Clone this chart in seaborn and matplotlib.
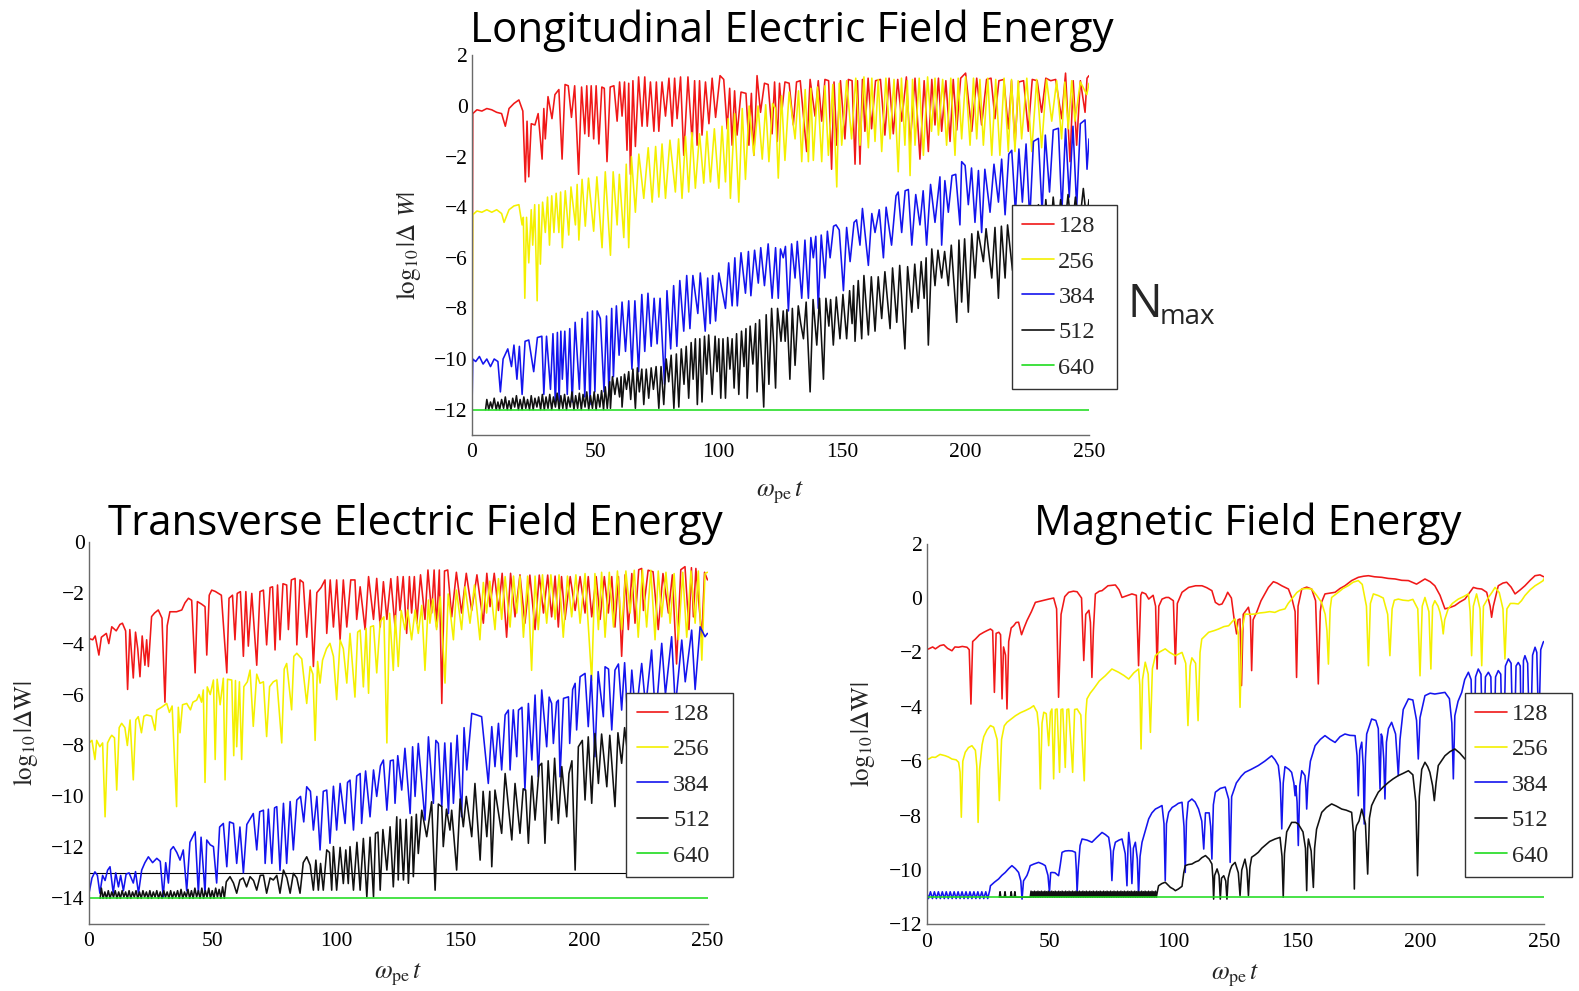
import matplotlib
matplotlib.use("Agg")
import matplotlib.pyplot as plt
from matplotlib.ticker import MultipleLocator
import pandas as pd
import seaborn as sns

# ---------------------------------------------------------------- data
# (t, log10|dW|) vertices for each N_max, one panel at a time
LONG_128 = [
    (0, -12.0), (0.3, -0.3), (2, -0.15), (4, -0.2), (6, -0.1), (8, -0.15), (10, -0.25), (12, -0.3),
    (13.5, -0.8), (15, -0.1), (17, 0.1), (19, 0.24), (20.6, -0.2), (21.6, -3.0), (22.3, -0.6), (23, -2.8),
    (24, -0.7), (25.5, -0.75), (26.8, -0.3), (28.4, -2.1), (29.1, -0.1), (29.7, -1.3), (30.8, 0.37),
    (32.4, -0.5), (33.6, 0.45), (35.2, 0.65), (36.5, -2.1), (37.7, 0.85), (39, 0.8), (40.3, -0.45),
    (41.6, 0.8), (43.2, -2.7), (44.4, 0.75), (45.7, -1.1), (46.5, 0.8), (47.3, -1.2), (48.3, 0.8),
    (49.3, -1.3), (50.3, 0.8), (51.4, -1.5), (52.6, 0.75), (53.6, 0.7), (54.7, -2.2), (56, 0.75),
    (57.5, 0.8), (58.8, -0.6), (59.8, 0.95), (60.8, -0.4), (61.8, 0.95), (62.8, -1.75), (63.5, 0.9),
    (64.2, -2.7), (65.2, 1.0), (66.2, -1.6), (67.5, 1.15), (68.9, -0.8), (70, 1.15), (71, -0.8),
    (72.3, 0.95), (73.7, -1.0), (74.7, 0.95), (75.7, -1.0), (77, 0.95), (78.4, -0.4), (79.8, 1.1),
    (81.1, -0.8), (82.1, 1.1), (83.1, -0.5), (84.5, 1.15), (85.8, -1.95), (87.5, 1.15), (89.2, -1.4),
    (90.2, 1.0), (91.2, -1.55), (92.2, 1.0), (93.2, -1.15), (94.6, 0.95), (96, -0.7), (97.3, 1.1),
    (98.7, -0.45), (100.5, 1.2), (102, 1.05), (103.4, -0.9), (104.4, 0.7), (105.4, -1.55), (106.4, 0.6),
    (107.4, -1.15), (109, 0.55), (111, 0.5), (112.2, -1.55), (113.2, 0.5), (114.2, -1.95), (115.5, 1.2),
    (116.9, -0.25), (118.5, 0.9), (120, 0.85), (121.6, -1.1), (122.6, 0.95), (123.7, -1.4), (124.6, 0.9),
    (125.5, -0.25), (126.8, 0.95), (128.5, 0.9), (130.2, -0.75), (131.5, 0.95), (133, 1.0), (135.6, -1.8),
    (137, 1.05), (139, -0.4), (140.3, 1.0), (141.7, -0.6), (143, 1.05), (144.5, 1.0), (145.7, -2.5),
    (146.7, 0.95), (147.8, -1.55), (149.3, 1.0), (151.1, -1.3), (152.5, 1.05), (154, 1.0), (155.2, -2.3),
    (156.2, 1.0), (157.2, -2.3), (158.2, 1.05), (159.2, -1.0), (160.5, 1.1), (161.9, -0.9), (163.5, 1.0),
    (165.5, 1.05), (167.3, -1.15), (169, 1.1), (170.7, -1.1), (172.5, 1.05), (174.1, -0.6), (176, 1.15),
    (177.5, -1.55), (179.5, 1.1), (181.5, -2.1), (183.2, 1.0), (184.9, -1.8), (186.3, 1.05), (187.6, -0.75),
    (189, 1.1), (190.3, -1.0), (192, 1.0), (193.7, -1.4), (195, 1.05), (196.4, -0.95), (198, 1.1),
    (200, 1.3), (202.5, -1.0), (204.5, 1.1), (206.5, -0.75), (208.5, 1.05), (210.3, 1.1), (211.9, -0.5),
    (213.5, 1.0), (215.5, 1.05), (217.3, -0.9), (218.6, 1.0), (220, -1.55), (221.5, 0.95), (223.5, 1.0),
    (225.4, -1.0), (227, 1.05), (229, 1.0), (230.8, -0.25), (232.5, 1.1), (234.5, 1.0), (236.5, 1.05),
    (238.9, -0.5), (240.5, 1.3), (242.3, -2.2), (243.6, 1.0), (245, -1.55), (246.5, 1.0), (248.4, -0.25),
    (249.2, 1.1), (250, 1.2),
]
LONG_256 = [
    (0, -12.0), (0.3, -4.3), (2, -4.15), (4, -4.2), (6, -4.1), (8, -4.2), (10, -4.1), (12, -4.25), (13, -4.6),
    (15, -4.1), (17, -3.95), (19, -3.9), (20.3, -4.7), (20.8, -4.4), (21.4, -7.6), (22.1, -4.4), (23, -6.2),
    (24, -4.1), (24.6, -5.5), (25.4, -3.9), (26.4, -7.7), (27.1, -3.9), (27.7, -6.25), (28.6, -3.8),
    (29.7, -5.0), (30.6, -3.6), (31.4, -5.5), (32.3, -3.55), (33.2, -5.0), (34.1, -3.45), (35.2, -5.0),
    (35.9, -3.4), (36.6, -5.6), (37.8, -3.35), (39.2, -5.1), (40.1, -3.2), (41.9, -4.7), (42.6, -3.1),
    (43.3, -5.3), (44.6, -2.9), (45.9, -4.75), (47.2, -2.85), (49.3, -4.95), (50.6, -2.8), (52.7, -5.6),
    (54, -2.6), (56.1, -5.9), (57.2, -2.6), (58.8, -4.7), (59.7, -2.7), (61.5, -5.2), (62.5, -2.3),
    (63.5, -5.6), (64.6, -2.0), (66.2, -4.2), (67.6, -1.9), (69.6, -3.65), (71.4, -1.65), (73, -3.8),
    (74.4, -1.6), (75.7, -3.6), (77, -1.5), (78.4, -3.65), (80.2, -1.35), (82.4, -3.4), (83.7, -1.3),
    (85.1, -3.65), (86.5, -1.2), (87.8, -3.4), (89.1, -1.05), (90.5, -3.25), (92.2, -1.1), (93.9, -3.05),
    (95.2, -1.0), (96.6, -3.0), (98.2, -0.9), (100, -3.25), (101.3, -0.8), (102.7, -3.0), (103.8, -0.5),
    (104.7, -3.65), (106.4, -0.3), (108.1, -3.8), (109.5, -0.1), (110.8, -2.9), (112.3, 0.0), (114.2, -1.95),
    (115.9, 0.0), (117.6, -2.1), (119, 0.05), (120.3, -2.2), (121.8, 0.1), (123, -0.1), (124.1, -2.85),
    (125.4, 0.4), (126.8, -2.15), (128.5, 0.55), (130.9, -1.3), (132.3, 0.6), (133.6, -2.2), (135, 0.65),
    (136.3, -2.2), (137.3, 0.7), (138.3, -2.15), (140, 0.75), (141.7, -2.2), (143, 0.8), (144.4, -1.95),
    (146.2, 0.85), (147.8, -3.2), (148.8, 0.9), (149.8, -1.55), (151.8, 1.0), (153.8, -1.3), (155.5, 1.1),
    (157.2, -1.55), (158.8, 1.15), (160.6, -1.65), (162, 1.1), (163.3, -1.4), (164.6, 1.05), (166, -1.8),
    (167.7, 1.1), (169.4, -1.3), (171, 1.05), (172.7, -2.6), (174, 1.1), (175.4, -1.55), (176.4, 1.0),
    (177.5, -2.75), (178.5, 1.05), (179.5, -1.55), (181.2, 1.1), (182.9, -1.95), (184.6, 1.15), (186.2, -1.0),
    (187.6, 1.1), (189, -1.15), (190.7, 1.05), (192.3, -1.55), (194, 1.1), (195.7, -1.95), (197, 1.1),
    (198.4, -1.3), (200, 1.15), (201.8, -1.55), (203.2, 1.1), (204.5, -1.3), (205.8, 1.05), (207.2, -1.55),
    (209, 1.1), (210.6, -1.95), (212.2, 1.05), (213.9, -1.95), (215.6, 1.1), (217.3, -1.8), (218.6, 1.05),
    (220, -1.8), (221.3, 1.0), (222.7, -1.3), (224.8, 1.1), (226.8, -1.8), (228.8, 1.05), (230.8, -1.65),
    (232.8, 1.05), (234.9, -0.6), (236.9, 1.0), (238.9, -1.3), (240.2, 0.95), (241.6, -0.9), (243, 1.0),
    (244.3, -0.6), (246.5, 0.95), (249.1, 0.45), (250, 0.9),
]
LONG_384 = [
    (0, -12.0), (0.3, -10.0), (1.5, -10.1), (3, -9.9), (4.5, -10.2), (6, -10.0), (7.5, -10.3), (9, -10.0),
    (10.5, -10.1), (11.5, -11.3), (12.6, -10.0), (14.5, -9.6), (16, -10.3), (17, -9.45), (18.2, -10.8),
    (19.2, -9.5), (20.3, -11.4), (21.5, -9.3), (23, -9.25), (25, -10.5), (26.5, -9.15), (28.3, -9.1),
    (29.1, -11.4), (30.2, -9.1), (31.8, -11.2), (32.8, -9.0), (33.8, -11.8), (34.6, -8.95), (35.3, -11.7),
    (36, -8.9), (36.6, -10.8), (37.6, -8.9), (38.6, -11.4), (39.6, -8.8), (40.6, -11.7), (41.8, -8.55),
    (43.5, -11.2), (44.6, -8.4), (45.7, -11.5), (46.8, -8.15), (47.8, -11.8), (48.8, -8.1), (49.8, -11.3),
    (50.7, -8.1), (52, -8.4), (53.5, -11.3), (54.5, -8.3), (55.5, -11.4), (56.6, -8.0), (57.3, -10.7),
    (58.5, -7.9), (59.6, -9.85), (60.8, -7.75), (62.2, -9.7), (63.5, -7.7), (64.8, -10.4), (66, -7.7),
    (67.5, -10.5), (68.8, -7.45), (70, -9.7), (71.3, -7.4), (72.6, -9.5), (73.8, -7.6), (75, -9.4),
    (76.2, -7.6), (78, -11.0), (79, -7.3), (80.5, -9.6), (81.7, -7.1), (83, -9.5), (84.2, -6.9), (85.8, -8.9),
    (87, -6.7), (88.3, -8.8), (89.5, -6.7), (91.5, -8.2), (92.5, -6.6), (94.5, -8.9), (95.5, -6.8),
    (96.5, -8.6), (97.5, -6.7), (98.7, -8.5), (100, -6.6), (102.7, -8.0), (104, -6.2), (105.4, -7.9),
    (106.5, -6.0), (107.5, -7.9), (109, -5.8), (110.8, -7.4), (112, -5.75), (113, -7.5), (114.5, -5.7),
    (116, -7.0), (117, -5.6), (118.5, -7.1), (120, -5.45), (121.6, -7.6), (123, -5.6), (124.1, -7.6),
    (125, -5.65), (126.1, -6.0), (127, -5.55), (128.2, -8.1), (129.5, -5.45), (130.9, -6.8), (131.8, -5.35),
    (133.6, -7.6), (134.9, -5.3), (136.3, -7.6), (137.3, -5.2), (138.3, -6.0), (139.3, -5.15), (140.3, -8.0),
    (141.5, -5.1), (143, -6.8), (144, -4.95), (145.1, -6.0), (146.5, -4.75), (147.5, -4.7), (148.8, -4.9),
    (150.5, -7.3), (151.8, -4.8), (153.2, -6.15), (154.8, -4.6), (155.8, -4.5), (157.2, -5.5), (158.2, -4.05),
    (160.6, -6.3), (162, -4.25), (163.3, -5.0), (165, -4.1), (166.7, -6.0), (167.8, -4.0), (170, -5.5),
    (171.8, -3.55), (172.7, -3.4), (174.1, -5.0), (175.5, -3.35), (176.8, -3.3), (178.2, -5.5), (179.8, -3.5),
    (181.5, -4.7), (182.8, -3.35), (184.2, -5.5), (185.8, -3.1), (187.6, -4.6), (189.6, -2.8), (190.3, -5.5),
    (191.6, -2.95), (193, -4.2), (194.5, -2.75), (196, -2.7), (197.7, -4.7), (198.4, -2.2), (199.8, -2.35),
    (201.1, -3.9), (202.4, -2.45), (203.8, -4.6), (205.2, -2.55), (206.5, -5.0), (207.8, -2.5), (209.9, -4.2),
    (211.5, -2.3), (213.3, -3.8), (214.6, -2.1), (216, -4.3), (217.5, -1.9), (218.7, -1.75), (220.2, -4.2),
    (221.6, -1.7), (223, -3.8), (224.5, -1.5), (226, -4.5), (227.5, -1.4), (229.5, -1.28), (231, -4.2),
    (232.3, -1.15), (234, -3.4), (235.5, -0.95), (237.6, -0.88), (239, -4.2), (240.5, -0.9), (242, -3.6),
    (243.5, -0.8), (245, -4.0), (246.5, -0.7), (248.4, -0.55), (249.2, -2.5), (250, -1.3),
]
LONG_512 = [
    (5.5, -12.0), (6, -11.6), (6.8, -12.0), (7.5, -11.7), (8.2, -11.95), (9, -11.55), (9.8, -12.0),
    (10.5, -11.7), (11.2, -12.0), (12, -11.6), (12.8, -11.95), (13.5, -11.5), (14.3, -12.0), (15, -11.65),
    (15.8, -12.0), (16.5, -11.55), (17.3, -11.9), (18, -11.45), (18.8, -12.0), (19.5, -11.6), (20.3, -12.0),
    (21, -11.5), (21.8, -11.95), (22.5, -11.6), (23.3, -12.0), (24, -11.45), (24.8, -12.0), (25.5, -11.55),
    (26.3, -11.9), (27, -11.5), (27.8, -12.0), (28.5, -11.4), (29.3, -12.0), (30, -11.5), (30.8, -11.95),
    (31.5, -11.4), (32.3, -12.0), (33, -11.5), (33.8, -11.9), (34.5, -11.35), (35.3, -12.0), (36, -11.45),
    (36.8, -11.95), (37.5, -11.4), (38.3, -12.0), (39, -11.5), (39.8, -11.9), (40.5, -11.3), (41.3, -12.0),
    (42, -11.45), (42.8, -11.95), (43.5, -11.35), (44.3, -12.0), (45, -11.4), (45.8, -11.9), (46.5, -11.3),
    (47.3, -12.0), (48, -11.45), (48.8, -11.95), (49.5, -11.3), (50.3, -12.0), (51, -11.4), (51.8, -11.9),
    (52.5, -11.25), (53.3, -12.0), (54, -11.1), (54.8, -11.95), (55.8, -10.9), (56.1, -11.95), (56.9, -10.7),
    (57.9, -11.4), (58.8, -10.75), (59.8, -11.5), (60.4, -10.7), (60.8, -11.9), (61.8, -10.6), (62.6, -11.2),
    (63.5, -10.5), (64.3, -11.6), (65.2, -10.4), (66.2, -11.95), (67, -10.35), (67.8, -11.3), (68.8, -10.4),
    (69.6, -11.8), (70.6, -10.4), (71.6, -11.55), (72.6, -10.35), (73.5, -11.2), (74.6, -10.3), (75.7, -11.95),
    (76.6, -10.3), (77.7, -11.8), (78.7, -10.0), (79.7, -10.9), (80.7, -9.85), (81.8, -11.95), (82.8, -9.8),
    (83.8, -11.9), (84.8, -9.6), (85.9, -11.0), (86.8, -9.5), (87.8, -11.55), (88.8, -9.35), (89.6, -10.8),
    (90.5, -9.2), (91.3, -11.8), (92.3, -9.2), (93.2, -11.7), (94.2, -9.1), (95.1, -10.6), (95.9, -9.05),
    (97.3, -11.4), (98.5, -9.1), (99.3, -10.5), (100, -9.2), (100.8, -11.55), (101.7, -9.2), (102.7, -11.55),
    (103.6, -9.15), (104.5, -10.4), (105.4, -9.2), (106.2, -11.15), (107.2, -9.0), (108.1, -11.4),
    (109.2, -8.9), (110.2, -10.3), (111, -8.8), (111.5, -11.55), (112.7, -8.7), (113.8, -10.2), (114.9, -8.6),
    (115.5, -11.3), (116.5, -8.45), (117.3, -10.0), (118.2, -11.9), (119.2, -8.25), (120.3, -11.0),
    (121.4, -8.0), (122.3, -9.5), (123, -11.15), (123.8, -8.0), (125.2, -9.3), (126.1, -8.1), (126.9, -9.3),
    (127.6, -8.05), (128.8, -10.8), (129.8, -8.0), (130.9, -10.25), (132.2, -7.9), (133.2, -8.6),
    (134.3, -9.2), (135.4, -7.75), (137, -11.3), (138.2, -7.65), (139.7, -9.45), (140.8, -7.6),
    (142.4, -10.8), (143.4, -7.6), (144.6, -8.7), (145.3, -7.65), (146.4, -9.45), (147.6, -7.55),
    (149.1, -9.2), (150.3, -7.45), (151.8, -9.2), (153, -7.3), (154, -8.6), (154.6, -7.1), (155.2, -9.3),
    (156.5, -6.9), (157.9, -9.2), (158.8, -6.7), (160.6, -9.05), (161.8, -6.75), (163.3, -8.9),
    (164.6, -6.75), (166, -8.4), (167.3, -6.55), (169.4, -8.8), (170.4, -6.4), (172.1, -8.55), (173.3, -6.3),
    (175.4, -9.6), (176.5, -6.35), (178.2, -8.15), (179.4, -6.25), (180.8, -8.0), (182, -6.15), (183.2, -7.6),
    (184, -6.0), (184.9, -9.45), (186.3, -5.65), (187.6, -7.1), (188.8, -5.7), (190.3, -6.8), (191.5, -5.75),
    (193, -7.1), (194.2, -5.5), (196.4, -8.55), (197.3, -5.3), (198.4, -7.75), (199.6, -5.25), (201.1, -8.15),
    (202.5, -5.05), (203.8, -6.8), (205, -4.95), (207.2, -6.15), (208.3, -4.85), (210.6, -6.8),
    (211.9, -4.8), (213.3, -7.6), (214.5, -4.75), (216, -6.8), (217, -4.7), (219, -6.5), (220.5, -4.5),
    (222, -6.2), (223.5, -4.3), (225, -6.0), (226.5, -4.1), (228, -5.8), (229.5, -3.9), (231, -5.9),
    (232.5, -3.7), (234, -5.5), (235.5, -3.6), (237, -5.2), (238.5, -3.7), (240, -5.0), (241.5, -3.5),
    (243, -5.0), (244.5, -3.6), (246, -4.8), (247.7, -3.26), (249, -4.5), (250, -3.7),
]
LONG_640 = [(0, -12.0), (250, -12.0)]

TRANS_128 = [
    (0, -3.8), (1.5, -3.85), (2.5, -3.7), (4, -4.45), (5, -3.75), (7, -3.6), (8, -4.0), (9.2, -3.34),
    (11, -3.5), (12.5, -3.25), (13.5, -3.2), (14.8, -3.5), (15.6, -5.8), (16.5, -3.45), (17.9, -5.35),
    (18.8, -3.55), (19.7, -4.2), (20.6, -5.3), (21.5, -3.7), (22.6, -4.85), (23.3, -3.85), (24, -4.9),
    (25.3, -2.94), (26.5, -2.8), (28, -2.68), (29.5, -3.0), (30.7, -6.3), (31.6, -3.3), (32.7, -2.75),
    (34, -2.75), (35.4, -2.75), (37.5, -2.68), (38.8, -2.4), (40.2, -2.22), (41.5, -2.3), (42.9, -5.15),
    (43.8, -2.35), (45.5, -2.45), (46.9, -2.55), (47.6, -4.45), (48.6, -2.1), (49.6, -1.9), (51, -1.95),
    (52.3, -2.03), (53.5, -2.1), (55.7, -5.15), (56.6, -2.22), (58, -2.1), (59, -3.85), (59.9, -2.03),
    (61.2, -1.96), (62.4, -4.5), (63.4, -1.96), (64.4, -4.1), (65.8, -2.03), (67.8, -4.85), (69.1, -1.96),
    (70.5, -1.9), (71.8, -4.05), (73.2, -1.8), (74.2, -1.77), (75.2, -4.25), (76.2, -1.7), (77.2, -3.85),
    (78.4, -1.65), (79.9, -1.7), (80.6, -3.45), (81.8, -1.5), (83.3, -1.44), (84, -4.05), (85.3, -1.5),
    (86.6, -1.6), (88, -3.75), (89.4, -1.9), (90.7, -4.9), (92.1, -2.0), (93.8, -1.8), (95.4, -1.5),
    (96.1, -3.6), (97.5, -1.5), (98.8, -3.35), (100.1, -1.5), (101.5, -3.85), (102.8, -1.5), (104.2, -3.35),
    (105.8, -1.5), (107.5, -1.5), (108.2, -3.05), (109.6, -1.77), (111.6, -3.45), (113, -1.37), (115, -3.05),
    (116.3, -1.44), (117.7, -3.35), (119, -1.57), (120.4, -3.05), (122, -1.45), (123.7, -3.35), (124.7, -1.37),
    (125.7, -2.7), (127, -1.37), (128.4, -3.6), (129.5, -1.37), (130.4, -2.8), (131.5, -1.37), (132.5, -3.2),
    (134, -1.3), (135.8, -3.05), (137, -1.11), (138.5, -2.8), (139.5, -1.11), (140.5, -3.35), (141.6, -1.11),
    (142.6, -6.35), (143.7, -1.15), (145, -1.11), (146.6, -2.95), (148.5, -1.2), (150.6, -2.8), (152.5, -1.24),
    (154.7, -2.7), (156.8, -1.3), (159.4, -3.2), (160.8, -1.24), (162.1, -2.55), (163.8, -1.24), (165.5, -2.7),
    (167, -1.24), (168.8, -3.75), (170.4, -1.24), (172.2, -2.95), (174.2, -1.3), (176.2, -3.2), (178.2, -1.31),
    (180.3, -3.45), (182, -1.31), (183.7, -2.8), (185.4, -1.31), (187, -2.95), (188.4, -1.35), (189.7, -3.35),
    (191, -1.37), (192.4, -3.05), (194.5, -1.37), (196.5, -2.7), (198.5, -1.37), (200.5, -2.8), (201.8, -1.37),
    (203.2, -2.95), (205, -1.37), (206.6, -3.05), (208.3, -1.37), (209.9, -2.8), (211.3, -1.37), (212.6, -3.35),
    (214, -1.37), (215.3, -4.5), (216.7, -1.3), (218, -3.45), (219.4, -1.25), (220.7, -3.2), (222.2, -1.1),
    (223.4, -1.05), (224.1, -2.7), (226, -1.12), (228, -1.18), (230.1, -3.45), (232, -1.25), (234.2, -2.8),
    (235.8, -1.3), (237.5, -4.8), (239.2, -1.1), (240.9, -0.98), (242.5, -3.45), (243.5, -1.02), (244.3, -2.95),
    (245.3, -1.05), (247.7, -3.75), (248.8, -1.2), (250, -1.5),
]
TRANS_256 = [
    (0, -7.9), (1.2, -7.8), (2.4, -8.55), (3.1, -7.8), (4.4, -8.05), (5.5, -7.9), (6.5, -10.8), (7.5, -7.9),
    (8.5, -7.7), (9.2, -7.6), (10.3, -7.7), (11.2, -9.75), (12.2, -7.3), (13.2, -7.13), (14.5, -7.3),
    (15.5, -8.0), (16.6, -7.0), (17.9, -9.35), (18.9, -7.0), (19.9, -6.87), (21.2, -7.5), (22.2, -6.85),
    (23.3, -6.8), (25.3, -6.85), (26.7, -7.4), (27.4, -6.61), (29.3, -6.5), (31.4, -6.35), (32.5, -6.7),
    (33.6, -6.45), (35.4, -10.4), (36.1, -6.5), (36.8, -7.5), (37.8, -6.4), (39.5, -6.35), (41, -6.6),
    (42, -6.3), (43.5, -6.22), (44.5, -6.0), (45.5, -6.3), (46.2, -5.82), (46.9, -9.45), (47.8, -5.7),
    (49, -6.0), (50.3, -5.43), (51, -8.55), (51.8, -5.4), (53, -6.4), (54.3, -5.36), (55, -9.35), (56, -5.4),
    (57.7, -5.43), (58.5, -8.4), (59.2, -5.45), (59.7, -8.05), (60.8, -5.5), (61.7, -8.55), (62.6, -5.69),
    (64, -5.5), (65.1, -5.04), (66.4, -7.25), (67.8, -5.2), (69.1, -5.56), (70.5, -5.5), (71.8, -7.65),
    (73, -5.69), (74.5, -5.5), (75.9, -5.43), (77.9, -7.9), (78.9, -5.0), (79.9, -4.78), (81.9, -6.6),
    (82.8, -4.5), (84, -4.38), (86, -4.6), (88, -6.35), (89.4, -4.9), (90.5, -5.2), (91.4, -7.8), (92.4, -4.7),
    (93.4, -5.55), (94.4, -4.65), (96, -4.2), (97.4, -3.99), (98.8, -4.5), (100.1, -6.2), (101.5, -3.86),
    (102.8, -4.2), (104.2, -5.55), (105.5, -3.6), (107.5, -6.1), (108.6, -3.55), (109.6, -3.47), (110.9, -5.7),
    (112, -3.4), (113, -5.95), (113.8, -3.34), (115, -3.3), (116.3, -5.15), (117.7, -3.14), (119.2, -2.95),
    (120.4, -7.9), (121.5, -2.81), (123, -5.05), (123.8, -2.9), (125, -4.9), (126.2, -2.7), (127.7, -3.45),
    (128.8, -2.68), (130.4, -3.85), (131.8, -2.68), (133.1, -3.6), (134.5, -2.5), (135.8, -5.05),
    (137.2, -2.29), (137.8, -3.2), (139, -2.25), (140.5, -3.45), (142, -2.16), (143.9, -5.55), (145.2, -2.05),
    (147.3, -3.85), (148.5, -1.9), (150.6, -3.45), (152, -1.77), (154, -3.2), (155.8, -1.7), (158, -3.85),
    (159.4, -1.6), (160.7, -2.8), (162, -1.55), (164.1, -3.45), (165.5, -1.45), (166.8, -3.05), (168.2, -1.37),
    (170.2, -3.35), (171.6, -1.35), (172.9, -2.8), (174.2, -1.35), (175.6, -3.75), (177.3, -1.35),
    (178.9, -5.05), (180.3, -1.35), (181.6, -3.45), (183.3, -1.3), (185, -3.2), (186.7, -1.3), (188.4, -3.05),
    (190, -1.3), (191.7, -3.75), (193.4, -1.35), (195.1, -2.95), (196.8, -1.3), (198.5, -3.2), (200.5, -1.25),
    (203.2, -5.45), (204.5, -1.25), (205.9, -3.45), (207.2, -1.2), (208.6, -3.75), (210.3, -1.2), (212, -3.35),
    (213.6, -1.15), (215.3, -3.45), (217, -1.15), (218.7, -2.8), (220.4, -1.12), (222, -3.75), (223.7, -1.1),
    (225.4, -3.35), (227.1, -1.12), (228.8, -3.85), (230.1, -1.15), (231.5, -2.95), (233.2, -1.2),
    (234.9, -3.2), (236.5, -1.25), (238.2, -3.85), (240, -1.2), (241.6, -3.75), (243.3, -1.15), (245, -3.2),
    (246.3, -1.15), (247.7, -4.65), (249, -1.25), (250, -1.2),
]
TRANS_384 = [
    (0, -13.8), (1.2, -13.2), (2.4, -12.96), (3.4, -13.1), (4.4, -13.8), (5.5, -13.1), (6.5, -13.3),
    (7.5, -12.9), (8.5, -12.76), (9.8, -13.8), (10.8, -13.0), (11.9, -13.55), (12.8, -13.1), (13.9, -13.7),
    (15, -13.05), (16.2, -13.0), (17.9, -13.4), (18.8, -12.95), (20, -13.8), (21.3, -12.89), (22.6, -12.6),
    (24, -12.37), (25.7, -12.6), (27.4, -12.43), (28.8, -12.55), (30, -13.95), (31, -12.6), (32.1, -13.4),
    (33, -12.1), (34.1, -11.97), (35.5, -12.2), (36.8, -12.5), (38.1, -12.1), (39.5, -13.7), (40.8, -11.8),
    (42.9, -11.39), (44.2, -13.8), (45.3, -11.6), (46.9, -13.8), (47.6, -11.71), (49, -11.9), (50.3, -11.97),
    (51.6, -13.4), (52.8, -11.2), (54.3, -11.06), (55.7, -12.76), (56.8, -11.0), (58.4, -11.06),
    (59.7, -12.63), (61, -11.2), (62.4, -13.0), (63.8, -11.1), (65, -10.9), (66.4, -10.67), (67.8, -12.1),
    (69, -10.6), (70.5, -10.54), (71.2, -12.63), (72.5, -10.5), (73.9, -12.63), (75, -10.45), (75.9, -10.4),
    (77.2, -12.9), (78.6, -10.27), (79.9, -12.63), (81.3, -10.2), (82.6, -12.1), (84, -10.14), (85.5, -10.0),
    (86.8, -11.0), (88, -9.62), (89.5, -9.8), (90.7, -11.32), (92.1, -10.0), (93.4, -12.1), (94.7, -9.8),
    (96.1, -9.75), (97.4, -11.84), (98.8, -9.6), (100.1, -11.32), (101.5, -9.49), (103.5, -11.06),
    (104.5, -9.45), (105.5, -9.36), (106.9, -11.32), (108.2, -9.2), (109.6, -9.1), (110.2, -11.06),
    (111.8, -9.0), (113.6, -10.8), (115, -8.96), (116.3, -10.0), (117.8, -8.8), (119, -8.57), (120.4, -10.54),
    (121.8, -8.6), (123, -8.57), (123.7, -10.27), (124.8, -8.4), (126.4, -9.75), (127.7, -8.11),
    (129.8, -10.67), (130.8, -8.05), (131.8, -10.0), (133.1, -7.92), (135.8, -10.93), (137.2, -7.66),
    (139.2, -10.27), (140.2, -7.8), (141.2, -7.92), (142.6, -10.4), (143.8, -7.9), (145.3, -10.67),
    (146.3, -7.9), (147.3, -10.27), (148.8, -7.6), (150.6, -10.8), (151.6, -7.3), (152.7, -8.96),
    (154.7, -6.74), (156.7, -6.8), (158.7, -6.87), (161.4, -9.49), (162.8, -7.26), (164.1, -8.83),
    (165.5, -7.13), (166.8, -8.96), (168.2, -6.8), (169.5, -6.61), (170.2, -8.96), (171.5, -6.6),
    (172.9, -8.44), (173.6, -6.61), (175, -6.5), (176.2, -9.75), (177.6, -6.35), (179, -8.57), (180.3, -6.02),
    (181.6, -9.23), (183, -5.82), (185, -8.05), (186, -6.1), (187, -6.35), (187.7, -7.92), (189, -6.3),
    (189.7, -6.22), (190.4, -9.23), (191.8, -6.15), (193.8, -6.09), (194.3, -7.92), (195.5, -5.8),
    (196.5, -5.56), (197.1, -7.39), (198.5, -5.3), (200.5, -5.17), (201.8, -7.26), (203, -5.25),
    (204.5, -8.44), (205.8, -5.1), (207.9, -6.87), (208.6, -4.91), (210, -5.0), (211.3, -7.39), (212.6, -5.04),
    (214, -4.8), (215.3, -6.61), (216.5, -4.75), (218, -7.5), (219.4, -5.04), (221, -6.9), (223.4, -4.78),
    (225, -6.5), (227.4, -4.25), (229, -7.0), (231.5, -3.99), (233, -6.0), (235.5, -3.73), (237, -6.5),
    (239.6, -3.86), (241, -5.5), (243.6, -3.47), (245, -5.8), (247, -3.34), (249, -3.73), (250, -3.6),
]
TRANS_512 = [
    (4.5, -14.0), (5, -13.6), (5.7, -14.0), (6.4, -13.75), (7.1, -14.0), (7.8, -13.7), (8.5, -14.0),
    (9.2, -13.75), (9.9, -13.95), (10.6, -13.7), (11.3, -14.0), (12, -13.75), (12.7, -14.0), (13.4, -13.7),
    (14.1, -13.95), (14.8, -13.75), (15.5, -14.0), (16.2, -13.7), (16.9, -14.0), (17.6, -13.75),
    (18.3, -13.95), (19, -13.7), (19.7, -14.0), (20.4, -13.75), (21.1, -14.0), (21.8, -13.7), (22.5, -13.95),
    (23.2, -13.75), (23.9, -14.0), (24.6, -13.7), (25.3, -14.0), (26, -13.75), (26.7, -13.95), (27.4, -13.7),
    (28.1, -14.0), (28.8, -13.75), (29.5, -14.0), (30.2, -13.7), (30.9, -13.95), (31.6, -13.75), (32.3, -14.0),
    (33, -13.7), (33.7, -14.0), (34.4, -13.75), (35.1, -13.95), (35.8, -13.7), (36.5, -14.0), (37.2, -13.65),
    (37.9, -14.0), (38.6, -13.75), (39.3, -13.95), (40, -13.65), (40.7, -14.0), (41.4, -13.7), (42.1, -14.0),
    (42.8, -13.6), (43.5, -13.95), (44.2, -13.7), (44.9, -14.0), (45.6, -13.6), (46.3, -14.0), (47, -13.7),
    (47.7, -13.95), (48.4, -13.6), (49.1, -14.0), (49.8, -13.7), (50.5, -14.0), (51.2, -13.6), (51.9, -13.95),
    (52.6, -13.65), (53.3, -14.0), (54, -13.55), (54.7, -14.0), (55.5, -13.35), (57, -13.15), (58.4, -13.4),
    (59.7, -13.8), (61, -13.28), (62.3, -13.2), (63.7, -13.55), (65.1, -13.15), (66.5, -13.3), (67.8, -13.68),
    (69.2, -13.1), (70.5, -13.09), (71.8, -13.8), (73.2, -13.2), (74.5, -13.28), (75.9, -13.1), (77.2, -13.8),
    (78.6, -12.89), (80, -13.2), (81.3, -13.8), (82.6, -13.02), (84, -13.2), (85.3, -13.8), (86.6, -12.6),
    (88, -12.37), (89.4, -12.7), (90.7, -13.68), (91.7, -12.5), (92.7, -13.68), (93.6, -12.63), (94.7, -13.68),
    (96.1, -12.1), (97.2, -12.2), (98.1, -13.68), (98.8, -11.97), (100.1, -13.68), (101.5, -12.0),
    (102.8, -13.42), (103.8, -12.1), (104.8, -13.42), (105.5, -11.97), (106.9, -13.68), (108.3, -11.8),
    (109.6, -13.68), (110.9, -11.65), (112.3, -13.94), (113.6, -11.6), (115, -13.94), (115.8, -11.45),
    (116.8, -11.4), (117.7, -13.68), (118.8, -11.3), (120.4, -12.89), (121.7, -11.19), (123, -13.55),
    (124.4, -10.8), (125, -13.28), (125.8, -10.9), (127.1, -13.28), (128.2, -10.9), (129.1, -13.41),
    (130.4, -10.8), (131.1, -13.15), (132.3, -10.7), (133.1, -12.24), (134.5, -10.54), (136.5, -11.58),
    (138.5, -10.21), (139.9, -13.68), (141.2, -10.3), (142.6, -10.4), (143.2, -11.97), (144.5, -10.5),
    (145.9, -11.32), (146.6, -10.54), (148.6, -12.89), (150, -10.1), (151.3, -11.19), (152.5, -10.0),
    (154.7, -11.58), (156, -9.49), (158.1, -12.5), (159.3, -9.8), (160.8, -11.58), (162, -9.8), (162.8, -12.76),
    (164.1, -9.75), (166.8, -11.45), (168.2, -9.1), (170.9, -11.71), (172.2, -9.49), (174.2, -11.45),
    (175.5, -9.7), (176.5, -9.75), (177.6, -11.84), (179, -9.2), (180.3, -10.93), (182, -8.8), (183, -8.7),
    (184.3, -11.84), (185.6, -8.6), (187, -10.93), (188.2, -8.5), (189.7, -11.06), (191.1, -8.83),
    (193.1, -10.8), (194, -9.1), (195.2, -8.6), (196.5, -12.89), (197.8, -8.05), (199.4, -7.8), (200.5, -10.14),
    (201.8, -7.66), (203.2, -10.27), (204.5, -7.53), (205.9, -9.49), (207.2, -7.55), (209.3, -9.62),
    (210.5, -7.6), (212.6, -10.4), (213.8, -7.5), (215.3, -8.7), (216.5, -7.3), (218.5, -9.0), (220.5, -7.0),
    (223, -9.5), (225, -6.9), (227.5, -9.0), (229.5, -6.8), (232, -9.2), (234, -6.7), (236.5, -8.5),
    (238.5, -6.6), (241, -8.8), (243, -6.5), (245.5, -8.2), (247.5, -6.4), (250, -7.0),
]
TRANS_640 = [(0, -14.0), (250, -14.0)]
TRANS_REFERENCE_LEVEL = -13.0

MAG_128 = [
    (0, -1.9), (0.9, -1.87), (2.5, -1.8), (3.6, -1.87), (5.5, -1.75), (7, -1.72), (8.5, -1.85), (10.3, -1.94),
    (11.5, -1.8), (13, -1.81), (14.5, -1.78), (16.4, -1.81), (17.3, -1.9), (18, -3.9), (18.7, -1.6),
    (19.8, -1.51), (21.5, -1.35), (23.2, -1.26), (24.5, -1.2), (25.9, -1.14), (26.8, -1.2), (27.5, -3.47),
    (28.2, -1.3), (29.3, -1.26), (30, -1.35), (30.6, -3.71), (31.2, -1.8), (32, -2.1), (32.6, -4.08),
    (33.3, -1.6), (34.3, -1.1), (35.3, -1.02), (36.3, -0.9), (37.3, -0.89), (38.5, -1.35), (39.5, -1.1),
    (40.7, -0.83), (42.5, -0.5), (44.1, -0.16), (46.8, -0.1), (49.5, -0.04), (51.5, 0.0), (52.7, -0.4),
    (53.5, -3.65), (54.5, -0.6), (56, 0.05), (57.6, 0.21), (59.5, 0.25), (61, 0.23), (62.8, 0.0),
    (63.7, -2.3), (64.5, -0.6), (65.8, -0.45), (66.4, -0.9), (67, -2.92), (67.6, -1.2), (68.4, 0.15),
    (70, 0.25), (71.1, 0.27), (73.5, 0.45), (76.5, 0.48), (78, 0.3), (79.2, 0.02), (81, 0.08), (83.2, 0.15),
    (85, 0.1), (85.9, -2.49), (86.8, 0.1), (87.3, 0.21), (88.8, 0.15), (90, -0.04), (91.8, 0.1), (92.8, -0.3),
    (93.4, -2.61), (94.1, -0.3), (95.4, -0.04), (97, 0.02), (98.1, 0.02), (100, -0.1), (100.8, -2.43),
    (101.6, -0.2), (103.5, 0.21), (106.2, 0.39), (109, 0.45), (111.6, 0.45), (113.5, 0.38), (115.6, 0.27),
    (117, -0.16), (118.5, -0.25), (119.7, -0.22), (121, 0.0), (122, 0.21), (123.5, 0.0), (124.5, -0.7),
    (125.6, -1.32), (126.2, -0.8), (127, -0.77), (127.6, -3.22), (128.3, -0.6), (130.4, -0.34), (131.2, -0.7),
    (131.7, -2.67), (132.3, -0.8), (133.7, -0.53), (135.5, -0.1), (138.5, 0.39), (140.5, 0.6), (142, 0.55),
    (143.9, 0.45), (146.6, 0.33), (147.9, 0.02), (149.3, -0.5), (149.9, -2.92), (150.5, -0.3), (152, 0.33),
    (154, 0.4), (156, 0.33), (157.6, -0.1), (158.7, -3.16), (159.5, -0.5), (160, -0.16), (161.4, 0.15),
    (163.5, 0.18), (165.5, 0.21), (167.5, 0.35), (169.5, 0.45), (172.2, 0.64), (174.9, 0.76), (177, 0.8),
    (179, 0.82), (181.5, 0.78), (184.4, 0.76), (187, 0.72), (189.8, 0.7), (192.5, 0.65), (195.2, 0.64),
    (198.5, 0.51), (200.5, 0.62), (201.9, 0.7), (204, 0.6), (205.9, 0.45), (208, 0.1), (210, -0.4),
    (212, -0.35), (214, -0.28), (216, -0.15), (218.1, -0.04), (220, 0.2), (221.5, 0.39), (223, 0.35),
    (224.9, 0.33), (226.9, 0.21), (228.3, -0.3), (228.9, -0.71), (229.6, -0.3), (231.6, 0.45), (233.5, 0.55),
    (235, 0.58), (236.8, 0.4), (238.4, 0.15), (240.5, 0.3), (242.4, 0.45), (244.5, 0.65), (246.5, 0.82),
    (248.5, 0.85), (250, 0.78),
]
MAG_256 = [
    (0, -5.92), (0.9, -5.92), (2.2, -5.85), (3.6, -5.86), (5.5, -5.75), (7.6, -5.8), (9, -5.85), (10.3, -5.92),
    (12, -5.95), (13, -6.04), (13.6, -6.4), (14.1, -8.06), (14.7, -6.0), (15.7, -5.67), (17, -5.5),
    (18.4, -5.43), (19.8, -5.6), (20.4, -6.2), (20.9, -8.25), (21.5, -6.3), (22.5, -5.4), (23.2, -5.1),
    (24.5, -4.85), (25.9, -4.69), (27.2, -4.75), (28.6, -5.2), (29.5, -7.45), (30.4, -5.2), (31.5, -4.7),
    (32.6, -4.57), (34.3, -4.45), (36, -4.33), (38, -4.22), (40, -4.14), (42, -4.05), (43.4, -3.96),
    (44.8, -4.2), (45.5, -4.8), (46.1, -7.02), (46.8, -4.6), (47.5, -4.2), (48.5, -4.25), (49.5, -5.43),
    (50.2, -4.2), (50.8, -4.08), (51.5, -6.65), (52.2, -4.1), (52.9, -4.08), (53.9, -6.41), (54.5, -4.1),
    (55.2, -4.08), (56.2, -6.23), (56.9, -4.1), (57.6, -4.08), (59.2, -6.41), (60, -4.1), (61, -4.08),
    (62.5, -4.3), (63.9, -6.72), (64.5, -4.3), (65, -3.71), (66.3, -3.5), (67.7, -3.34), (70, -3.05),
    (72.4, -2.86), (75.1, -2.61), (77.8, -2.73), (80, -2.85), (81.9, -2.98), (84, -2.75), (85.9, -2.61),
    (86.4, -3.2), (86.9, -5.55), (87.5, -3.0), (88.6, -2.36), (89.8, -2.8), (90.7, -4.94), (91.5, -2.6),
    (92.7, -2.12), (94.5, -1.98), (96.7, -1.87), (98.5, -2.0), (100.8, -2.12), (103.5, -2.0), (105, -2.4),
    (105.9, -4.69), (106.8, -2.5), (107.5, -2.2), (109, -2.4), (110, -4.51), (110.8, -2.0), (111.5, -1.51),
    (114.3, -1.26), (116.5, -1.2), (118.3, -1.14), (120.5, -1.05), (122.4, -1.02), (124, -0.85),
    (125, -0.77), (126.3, -1.3), (127, -4.02), (127.8, -1.2), (129, -0.59), (131, -0.6), (133, -0.59),
    (135, -0.55), (137.1, -0.53), (139, -0.5), (141.1, -0.53), (143, -0.45), (145.2, -0.4), (146.5, -0.2),
    (147.9, -0.04), (150, 0.2), (152, 0.33), (154, 0.35), (156, 0.33), (158, 0.1), (160, -0.16),
    (161.5, -0.6), (162.2, -1.2), (162.8, -2.43), (163.5, -0.4), (164.1, 0.02), (166.8, 0.21), (168.7, 0.35),
    (170.8, 0.45), (172.8, 0.58), (174.9, 0.64), (176.5, 0.5), (178.2, -0.3), (179, -2.49), (179.8, -0.2),
    (181, 0.15), (183, 0.09), (185, 0.0), (186.8, -0.6), (187.7, -2.12), (188.6, -0.4), (189.5, -0.08),
    (191.1, -0.04), (193, -0.08), (195.2, -0.1), (197, -0.05), (199, -0.4), (199.9, -2.86), (200.8, -0.3),
    (201.9, 0.02), (203.5, -0.5), (204.3, -2.61), (205, -0.3), (205.9, -0.1), (207.2, -0.3), (208, -0.53),
    (208.8, -0.9), (209.3, -1.32), (209.9, -0.8), (211.3, -0.4), (213, -0.2), (215.4, -0.04), (217.5, 0.05),
    (219.5, 0.15), (220.2, -0.5), (220.8, -2.12), (221.5, -0.3), (222.8, 0.15), (224.2, -0.4), (224.9, -2.49),
    (225.6, -0.3), (227.6, 0.02), (229, 0.2), (230.3, 0.39), (232, 0.2), (233.5, -0.4), (234.3, -2.24),
    (235.1, -0.4), (236.5, -0.2), (238, -0.2), (239.7, -0.22), (241, -0.1), (242.4, 0.09), (244.5, 0.3),
    (246.5, 0.45), (248.3, 0.55), (249.8, 0.64), (250, 0.7),
]
MAG_384 = [
    (0, -10.8), (0.8, -11.05), (1.6, -10.8), (2.4, -11.05), (3.2, -10.8), (4, -11.05), (4.8, -10.8),
    (5.6, -11.05), (6.4, -10.8), (7.2, -11.05), (8, -10.8), (8.8, -11.05), (9.6, -10.8), (10.4, -11.05),
    (11.2, -10.8), (12, -11.05), (12.8, -10.8), (13.6, -11.05), (14.4, -10.8), (15.2, -11.05), (16, -10.8),
    (16.8, -11.05), (17.6, -10.8), (18.4, -11.05), (19.2, -10.8), (20, -11.05), (20.8, -10.8), (21.6, -11.05),
    (22.4, -10.8), (23.2, -11.05), (24, -10.8), (24.8, -11.05), (25.6, -10.75), (25.9, -10.58), (27.5, -10.45),
    (29.2, -10.33), (30.5, -10.2), (31.9, -10.09), (33.3, -9.95), (34.6, -9.84), (36, -9.95), (37.3, -10.09),
    (38.2, -10.4), (38.7, -11.07), (39.3, -10.4), (40.7, -10.2), (41.5, -10.0), (42, -9.84), (43.5, -9.78),
    (45.4, -9.72), (47, -9.78), (48.1, -9.84), (49.2, -10.2), (49.8, -10.82), (50.3, -10.1), (50.8, -10.09),
    (52, -10.1), (53.5, -10.21), (54.2, -9.8), (54.9, -9.35), (56.2, -9.3), (57.6, -9.29), (59, -9.3),
    (60.3, -9.35), (60.7, -10.0), (61, -10.82), (61.5, -9.9), (62.2, -9.1), (63, -8.86), (65, -8.9),
    (67, -8.98), (69, -8.8), (71.1, -8.62), (72.5, -8.7), (73.8, -8.8), (74.6, -9.3), (75.1, -10.39),
    (75.7, -9.3), (76.5, -8.98), (78, -8.9), (79.2, -8.86), (80.5, -9.4), (81.2, -10.58), (81.6, -9.2),
    (81.9, -8.62), (82.6, -9.2), (83.2, -10.5), (83.8, -9.2), (84.6, -8.98), (85.4, -9.6), (85.9, -10.94),
    (86.5, -9.5), (87.3, -8.98), (88.5, -8.6), (90, -8.12), (91.3, -7.9), (92.7, -7.76), (94, -7.7),
    (95.4, -7.63), (96.2, -8.3), (96.7, -10.39), (97.2, -8.3), (98.1, -7.88), (99.5, -7.7), (100.8, -7.63),
    (102, -7.55), (103.5, -7.51), (104.3, -8.4), (104.8, -10.09), (105.3, -8.2), (106, -7.5), (107.5, -7.39),
    (108.8, -7.5), (110.2, -7.76), (111.5, -8.2), (112.3, -9.23), (113, -7.9), (114.5, -7.9), (115.1, -8.4),
    (115.6, -9.6), (116.2, -7.6), (117, -7.14), (119, -7.0), (121, -6.95), (122.4, -7.4), (123, -9.72),
    (123.6, -7.3), (125.5, -6.8), (127.5, -6.55), (129, -6.41), (131.5, -6.3), (134.4, -6.16), (137, -6.0),
    (139.8, -5.8), (141.2, -5.95), (142.5, -6.16), (143.3, -6.8), (143.9, -8.49), (144.5, -6.8), (145.2, -6.2),
    (146.8, -6.3), (147.9, -6.41), (148.8, -6.8), (149.3, -7.27), (149.6, -6.9), (150.1, -7.5), (150.6, -9.1),
    (151.2, -6.9), (152, -6.35), (153.3, -6.53), (153.7, -7.0), (154, -7.76), (154.5, -6.8), (155.5, -6.0),
    (157.4, -5.43), (159.5, -5.2), (161.4, -5.06), (163.5, -5.2), (165.5, -5.31), (167.5, -5.1), (169.5, -5.0),
    (171.5, -5.05), (173.6, -5.06), (174.4, -5.8), (174.9, -7.27), (175.5, -5.6), (176.3, -5.3), (176.9, -6.2),
    (177.3, -8.31), (177.8, -5.9), (178.3, -5.0), (180.3, -4.45), (182, -4.5), (183, -4.8), (183.7, -7.02),
    (184.2, -5.0), (184.6, -5.1), (185.2, -5.9), (185.7, -7.39), (186.3, -5.3), (187.1, -4.8), (188.4, -4.57),
    (190, -5.0), (190.6, -5.8), (191.1, -6.53), (191.8, -5.2), (193.1, -4.1), (195.2, -3.71), (197, -3.75),
    (198.5, -4.5), (199.2, -5.92), (199.9, -4.4), (201.9, -3.59), (204, -3.5), (205.9, -3.53), (208, -3.5),
    (210, -3.47), (211.8, -3.7), (212.8, -4.6), (213.4, -6.65), (214, -4.33), (215.3, -3.8), (216.8, -3.47),
    (218, -3.0), (219.5, -2.73), (220.6, -3.0), (221.5, -7.0), (222.4, -2.9), (223.5, -2.61), (224.6, -2.8),
    (225.5, -6.5), (226.4, -2.9), (227.6, -2.73), (228.6, -2.9), (229.5, -7.0), (230.5, -2.9), (231.6, -2.67),
    (232.6, -2.8), (233.5, -6.8), (234.5, -2.5), (235.7, -2.24), (236.8, -2.4), (237.8, -6.5), (238.8, -2.5),
    (239.7, -2.37), (240.5, -2.5), (241.2, -7.0), (241.8, -2.3), (242.4, -2.12), (243.5, -2.4), (244.5, -6.0),
    (245.5, -2.1), (246.5, -1.81), (247.2, -2.0), (248, -5.0), (248.8, -1.9), (249.8, -1.63), (250, -1.6),
]
MAG_512 = [
    (29.5, -11.0), (29.8, -10.8), (30.1, -11.0), (31.5, -11.0), (31.8, -10.8), (32.1, -11.0), (34, -11.0),
    (34.3, -10.8), (34.6, -11.0), (35.5, -11.0), (35.8, -10.8), (36.1, -11.0), (42, -11.0), (42.35, -10.78),
    (42.7, -11.0), (43.05, -10.8), (43.4, -11.0), (43.75, -10.78), (44.1, -11.0), (44.45, -10.8), (44.8, -11.0),
    (45.15, -10.78), (45.5, -11.0), (45.85, -10.8), (46.2, -11.0), (46.55, -10.78), (46.9, -11.0),
    (47.25, -10.8), (47.6, -11.0), (47.95, -10.78), (48.3, -11.0), (48.65, -10.8), (49, -11.0), (49.35, -10.78),
    (49.7, -11.0), (50.05, -10.8), (50.4, -11.0), (50.75, -10.78), (51.1, -11.0), (51.45, -10.8), (51.8, -11.0),
    (52.15, -10.78), (52.5, -11.0), (52.85, -10.8), (53.2, -11.0), (53.55, -10.78), (53.9, -11.0),
    (54.25, -10.8), (54.6, -11.0), (54.95, -10.78), (55.3, -11.0), (55.65, -10.8), (56, -11.0), (56.35, -10.78),
    (56.7, -11.0), (57.05, -10.8), (57.4, -11.0), (57.75, -10.78), (58.1, -11.0), (58.45, -10.8), (58.8, -11.0),
    (59.15, -10.78), (59.5, -11.0), (59.85, -10.8), (60.2, -11.0), (60.55, -10.78), (60.9, -11.0),
    (61.25, -10.8), (61.6, -11.0), (61.95, -10.78), (62.3, -11.0), (62.65, -10.8), (63, -11.0), (63.35, -10.78),
    (63.7, -11.0), (64.05, -10.8), (64.4, -11.0), (64.75, -10.78), (65.1, -11.0), (65.45, -10.8), (65.8, -11.0),
    (66.15, -10.78), (66.5, -11.0), (66.85, -10.8), (67.2, -11.0), (67.55, -10.78), (67.9, -11.0),
    (68.25, -10.8), (68.6, -11.0), (68.95, -10.78), (69.3, -11.0), (69.65, -10.8), (70, -11.0), (70.35, -10.78),
    (70.7, -11.0), (71.05, -10.8), (71.4, -11.0), (71.75, -10.78), (72.1, -11.0), (72.45, -10.8), (72.8, -11.0),
    (73.15, -10.78), (73.5, -11.0), (73.85, -10.8), (74.2, -11.0), (74.55, -10.78), (74.9, -11.0),
    (75.25, -10.8), (75.6, -11.0), (75.95, -10.78), (76.3, -11.0), (76.65, -10.8), (77, -11.0), (77.35, -10.78),
    (77.7, -11.0), (78.05, -10.8), (78.4, -11.0), (78.75, -10.78), (79.1, -11.0), (79.45, -10.8), (79.8, -11.0),
    (80.15, -10.78), (80.5, -11.0), (80.85, -10.8), (81.2, -11.0), (81.55, -10.78), (81.9, -11.0),
    (82.25, -10.8), (82.6, -11.0), (82.95, -10.78), (83.3, -11.0), (83.65, -10.8), (84, -11.0), (84.35, -10.78),
    (84.7, -11.0), (85.05, -10.8), (85.4, -11.0), (85.75, -10.78), (86.1, -11.0), (86.45, -10.8), (86.8, -11.0),
    (87.15, -10.78), (87.5, -11.0), (87.85, -10.8), (88.2, -11.0), (88.55, -10.78), (88.9, -11.0),
    (89.25, -10.8), (89.6, -11.0), (89.95, -10.78), (90.3, -11.0), (90.65, -10.8), (91, -11.0), (91.35, -10.78),
    (91.7, -11.0), (92.05, -10.8), (92.4, -11.0), (92.75, -10.78), (93.1, -11.0), (93.5, -10.8), (94, -10.58),
    (95.3, -10.5), (96.7, -10.45), (97.8, -10.55), (98.8, -10.64), (100, -10.7), (100.8, -10.76), (102, -10.7),
    (103.5, -10.6), (104.2, -10.1), (104.8, -9.84), (106, -9.8), (107.5, -9.78), (109, -9.7), (110.2, -9.66),
    (111.5, -9.55), (113, -9.47), (114.5, -9.6), (115.6, -9.78), (116, -10.3), (116.3, -11.07), (116.7, -10.2),
    (117.7, -9.96), (118.5, -10.2), (119, -11.07), (119.5, -10.3), (120.4, -10.21), (121.2, -10.4),
    (121.7, -11.07), (122.2, -10.3), (123, -10.0), (123.7, -9.84), (125, -9.72), (126.3, -10.1), (127, -10.94),
    (127.7, -10.0), (129, -9.6), (129.8, -10.0), (130.4, -10.94), (131, -9.9), (131.7, -9.53), (133, -9.45),
    (134.4, -9.35), (135.8, -9.2), (137.1, -9.1), (139, -8.95), (141.2, -8.86), (143.2, -8.8), (144, -9.5),
    (144.5, -11.0), (145, -9.4), (145.9, -8.6), (147.9, -8.25), (149.5, -8.25), (150.6, -8.31), (152.5, -8.6),
    (153.5, -9.2), (154, -10.76), (154.4, -9.2), (154.7, -8.86), (155.8, -9.3), (156.7, -10.64), (157.2, -9.2),
    (158, -8.5), (160.1, -7.88), (162, -7.7), (164.1, -7.57), (166, -7.65), (168.2, -7.76), (170, -7.8),
    (172.2, -7.88), (172.9, -8.6), (173.3, -10.7), (173.7, -8.6), (174.2, -8.37), (175.2, -8.2), (176.3, -7.76),
    (177.8, -8.3), (178.7, -10.15), (179.4, -8.1), (180.3, -7.63), (181.5, -7.4), (183, -7.14), (185, -6.95),
    (187.1, -6.78), (189, -6.65), (191.1, -6.53), (193, -6.45), (195.2, -6.35), (197, -6.5), (198.2, -7.5),
    (198.9, -10.21), (199.6, -7.3), (200.6, -6.3), (201.9, -6.04), (203, -6.2), (203.9, -6.41), (205, -6.9),
    (205.7, -7.45), (206.4, -6.8), (207.3, -6.16), (210, -5.8), (212, -5.65), (214, -5.55), (216, -5.7),
    (218.1, -5.92), (220, -5.7), (222, -5.5), (223.5, -7.0), (225, -5.3), (227, -5.2), (228.5, -6.8),
    (230, -5.1), (232, -5.0), (233.5, -6.5), (235, -4.9), (237, -4.8), (238.5, -6.2), (240, -4.7), (242, -4.6),
    (243.5, -6.0), (245, -4.5), (247, -4.4), (248.5, -5.8), (250, -4.3),
]
MAG_640 = [(0, -11.0), (250, -11.0)]

N_LEVELS = ["128", "256", "384", "512", "640"]
COLORS = ["#f01818", "#f4f000", "#1414ee", "#111111", "#1fdc1f"]

TITLES = ["Longitudinal Electric Field Energy",
          "Transverse Electric Field Energy",
          "Magnetic Field Energy"]

# ---------------------------------------------------------------- style
sns.set_theme(style="white")
plt.rcParams["font.family"] = ["Liberation Serif", "DejaVu Serif"]
plt.rcParams["mathtext.fontset"] = "stix"
plt.rcParams["axes.unicode_minus"] = True

W, H = 1579, 991
fig = plt.figure(figsize=(W / 100, H / 100), dpi=100)
fig.patch.set_facecolor("white")

AX_GREY = "#6a6a6a"
palette = dict(zip(N_LEVELS, COLORS))


def to_frame(series):
    rows = []
    for label, pts in zip(N_LEVELS, series):
        for t, v in pts:
            rows.append((t, v, label))
    return pd.DataFrame(rows, columns=["t", "logdW", "N"])


def px_axes(left, right, top, bottom):
    return fig.add_axes([left / W, 1 - bottom / H, (right - left) / W, (bottom - top) / H])


def draw_panel(ax, series, ylim, yticks, ylabel, legend_px, xlabel_y, extra=None):
    if extra is not None:
        ax.axhline(extra, color="black", lw=0.8, zorder=1)
    sns.lineplot(data=to_frame(series), x="t", y="logdW", hue="N", hue_order=N_LEVELS,
                 palette=palette, estimator=None, sort=False, linewidth=1.15,
                 ax=ax, legend=True)
    ax.set_xlim(0, 250)
    ax.set_ylim(*ylim)
    ax.set_facecolor("white")
    for s in ("top", "right"):
        ax.spines[s].set_visible(False)
    for s in ("left", "bottom"):
        ax.spines[s].set_color(AX_GREY)
        ax.spines[s].set_linewidth(1.0)
    ax.set_xticks(range(0, 251, 50))
    ax.xaxis.set_minor_locator(MultipleLocator(10))
    ax.set_yticks(yticks)
    ax.yaxis.set_minor_locator(MultipleLocator(0.5))
    ax.tick_params(which="both", direction="in", color=AX_GREY, labelsize=15.5, labelcolor="black")
    ax.tick_params(which="major", length=4.5, width=0.9)
    ax.tick_params(which="minor", length=3, width=0.8)
    ax.tick_params(axis="x", which="major", pad=6)
    ax.tick_params(axis="y", which="major", pad=3)
    ax.grid(False)
    ax.set_xlabel(r"$\omega_{\rm pe}\,t$", fontsize=18.5)
    ax.xaxis.set_label_coords(0.5, xlabel_y)
    ax.set_ylabel(ylabel, fontsize=18)
    ax.yaxis.set_label_coords(-0.08, 0.5)

    old = ax.get_legend()
    handles = list(old.legend_handles)
    labels = [t.get_text() for t in old.get_texts()]
    old.remove()
    for h in handles:
        h.set_linewidth(1.2)
    x0, x1, y0 = legend_px
    leg = ax.legend(handles, labels, loc="upper left",
                    bbox_to_anchor=(x0 / W, 1 - y0 / H, (x1 - x0) / W, 0),
                    bbox_transform=fig.transFigure, mode="expand",
                    frameon=True, fancybox=False, framealpha=1, edgecolor="#333333",
                    fontsize=17.5, handlelength=1.3, handletextpad=0.2,
                    labelspacing=0.55, borderpad=0.42, borderaxespad=0)
    leg.get_frame().set_linewidth(1.0)
    return ax


ax_top = px_axes(472, 1089, 55.4, 434.9)
draw_panel(ax_top, [LONG_128, LONG_256, LONG_384, LONG_512, LONG_640],
           (-13, 2), range(-12, 3, 2), r"$\log_{10}|\Delta\ W|$", (1011.7, 1116.7, 205), -0.118)

ax_bl = px_axes(89, 707.5, 541.7, 923.8)
draw_panel(ax_bl, [TRANS_128, TRANS_256, TRANS_384, TRANS_512, TRANS_640],
           (-15, 0), range(-14, 1, 2), r"$\log_{10}|\Delta \mathrm{W}|$", (626.4, 733.1, 692.8), -0.1,
           extra=TRANS_REFERENCE_LEVEL)

ax_br = px_axes(926.5, 1543.7, 543.6, 924.4)
draw_panel(ax_br, [MAG_128, MAG_256, MAG_384, MAG_512, MAG_640],
           (-12, 2), range(-12, 3, 2), r"$\log_{10}|\Delta \mathrm{W}|$", (1465.2, 1571.9, 692.8), -0.1)

SANS = ["Open Sans", "DejaVu Sans"]
TITLE_FONT = dict(family=SANS, fontsize=30.3, color="black", va="baseline", ha="center")
fig.text(792 / W, 1 - 42.5 / H, TITLES[0], **TITLE_FONT)
fig.text(415 / W, 1 - 535 / H, TITLES[1], **TITLE_FONT)
fig.text(1248 / W, 1 - 535 / H, TITLES[2], **TITLE_FONT)

fig.text(1128 / W, 1 - 317 / H, "N", family=SANS, fontsize=33, va="baseline", ha="left")
fig.text(1160 / W, 1 - 324 / H, "max", family=SANS, fontsize=20, va="baseline", ha="left")

fig.savefig("out.png", dpi=100, facecolor="white")
